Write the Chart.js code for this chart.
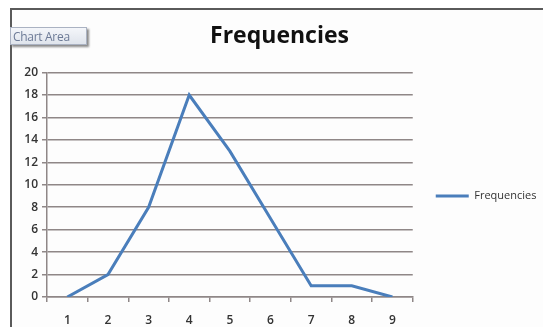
<!DOCTYPE html>
<html>
<head>
<meta charset="utf-8">
<script src="https://cdn.jsdelivr.net/npm/chart.js@4.4.0/dist/chart.umd.min.js"></script>
<style>
  html, body { margin: 0; padding: 0; width: 543px; height: 327px; overflow: hidden; background: #ffffff; }
  #frame { position: absolute; left: 10px; top: 8px; width: 600px; height: 400px;
           border-left: 2px solid #5a5a5a; border-top: 2px solid #5a5a5a; background: #fdfdfd; }
  #wrap { position: absolute; left: 13px; top: 11px; }
  #tip { position: absolute; left: 10px; top: 27px; width: 77px; height: 18px;
         background: linear-gradient(#f4f6fa, #dfe4ec); border: 1px solid #aab2c2;
         box-shadow: 2px 2px 2px #8a8a8a; font: 12px "Open Sans", sans-serif; color: #6c7a96;
         line-height: 17px; padding-left: 2px; box-sizing: border-box; white-space: nowrap; letter-spacing: -0.3px; }
</style>
</head>
<body>
<div id="frame"></div>
<div id="wrap"><canvas id="c" width="550" height="316" style="width:550px;height:316px"></canvas></div>
<div id="tip">Chart Area</div>
<script>
const categories = ["1", "2", "3", "4", "5", "6", "7", "8", "9"];
const frequencies = [0, 2, 8, 18, 13, 7, 1, 1, 0];
const seriesName = "Frequencies";
const chartTitle = "Frequencies";

const blue = "#4a7ebb";
const gridColor = "#8f8787";
const tickFont = { family: "'Open Sans', sans-serif", size: 12, weight: "600" };

new Chart(document.getElementById("c"), {
  type: "line",
  data: {
    labels: categories,
    datasets: [{
      label: seriesName,
      data: frequencies,
      borderColor: blue,
      backgroundColor: blue,
      borderWidth: 3,
      pointRadius: 0,
      tension: 0,
      fill: false
    }]
  },
  options: {
    responsive: false,
    animation: false,
    layout: { padding: { left: 0, right: 17, top: 0, bottom: 0 } },
    plugins: {
      title: {
        display: true,
        text: chartTitle,
        color: "#111111",
        font: { family: "'Open Sans', sans-serif", size: 23, weight: "bold" },
        padding: { top: 12, bottom: 22 }
      },
      legend: {
        display: true,
        position: "right",
        align: "center",
        title: { display: true, text: "", font: { size: 10 }, padding: 21 },
        labels: {
          boxWidth: 33,
          boxHeight: 3,
          color: "#333333",
          font: { family: "'Open Sans', sans-serif", size: 11 },
          padding: 23,
          generateLabels: (chart) => chart.data.datasets.map((d, i) => ({
            text: d.label, fillStyle: blue, strokeStyle: blue, lineWidth: 0,
            hidden: false, datasetIndex: i, fontColor: "#333333"
          }))
        }
      },
      tooltip: { enabled: false }
    },
    scales: {
      x: {
        offset: true,
        grid: { display: true, offset: true, drawOnChartArea: false, drawTicks: true, tickLength: 5, color: gridColor, lineWidth: 1.5 },
        border: { display: true, color: gridColor, width: 1.5 },
        ticks: { color: "#333333", font: tickFont, padding: 11, maxRotation: 0 },
        afterFit: (s) => { s.height = 30; }
      },
      y: {
        min: 0, max: 20,
        ticks: { stepSize: 2, color: "#333333", font: tickFont, padding: 4 },
        grid: { color: gridColor, lineWidth: 1.5, tickLength: 5, drawTicks: true },
        border: { display: true, color: gridColor, width: 1.5 },
        afterFit: (s) => { s.width = 34; }
      }
    }
  }
});
</script>
</body>
</html>
